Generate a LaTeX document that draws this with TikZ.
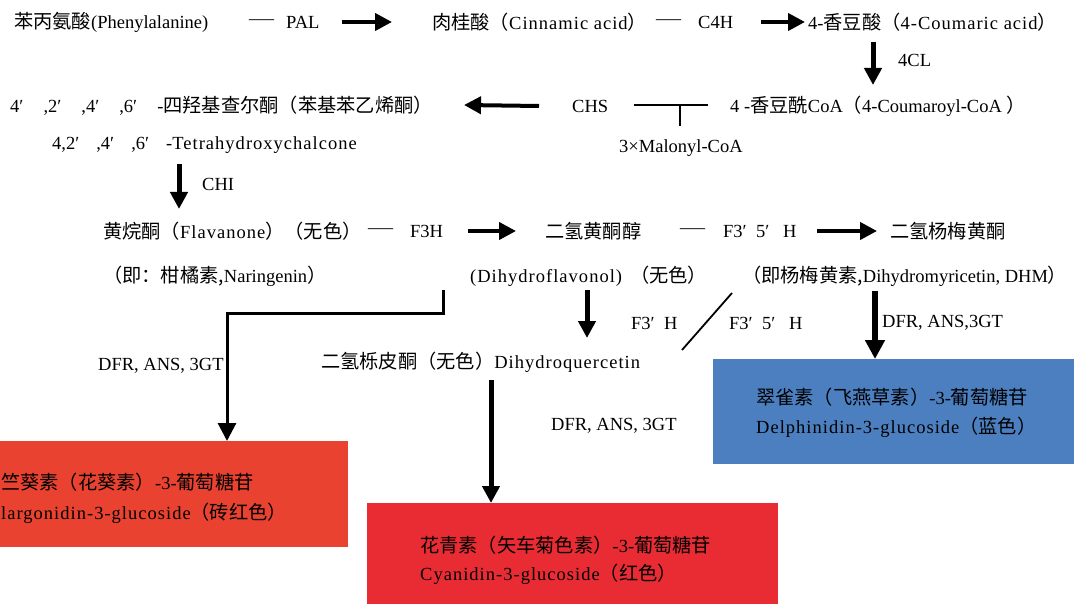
\documentclass[tikz,border=0pt]{standalone}
\usepackage{fontspec}
\setmainfont{Liberation Serif}
\newfontfamily\cjk{Noto Sans CJK SC}[Scale=1.04]
\newfontfamily\wide{Liberation Serif}[LetterSpace=5.5]
\usetikzlibrary{arrows.meta}
\newcommand{\ldash}{\scalebox{1.35}[1]{—}}
\begin{document}
\begin{tikzpicture}[x=1pt,y=-1pt,
  lbl/.style={anchor=west,inner sep=0pt,font=\fontsize{18.5}{22}\selectfont},
  harr/.style={line width=4pt,-{Triangle[length=17pt,width=17pt]}},
  varr/.style={line width=5pt,-{Triangle[length=17pt,width=17pt]}},
  elb/.style={line width=3pt,-{Triangle[length=18pt,width=18pt]}},
  thinline/.style={line width=1.6pt},
  colbox/.style={anchor=north west,inner sep=0pt,draw=none}]
\useasboundingbox[fill=white] (0,0) rectangle (1074,604);
\definecolor{pelc}{RGB}{233,66,48}
\definecolor{cyac}{RGB}{233,44,52}
\definecolor{delc}{RGB}{76,127,192}
% boxes
\node[colbox,fill=pelc,minimum width=348pt,minimum height=106pt] (pelbox) at (0,441) {};
\node[colbox,fill=cyac,minimum width=411pt,minimum height=101pt] (cyabox) at (367,503) {};
\node[colbox,fill=delc,minimum width=361pt,minimum height=105pt] (delbox) at (713,359) {};
% row 1
\node[lbl] (phe) at (14,22) {{\cjk 苯丙氨酸}(Phenylalanine)};
\node[lbl] (d1) at (249,22) {\ldash};
\node[lbl] (pal) at (286,22) {PAL};
\node[lbl] (cin) at (432,22) {{\cjk 肉桂酸（}{\wide Cinnamic acid}{\cjk ）}};
\node[lbl] (d2) at (656,22) {\ldash};
\node[lbl] (c4h) at (698,22) {C4H};
\node[lbl] (cou) at (808,22) {4-{\cjk 香豆酸（}{\wide 4-Coumaric acid}{\cjk ）}};
\draw[harr] ([xshift=22pt]pal.east) -- ([xshift=-40pt]cin.west);
\draw[harr] ([xshift=28pt]c4h.east) -- ([xshift=-3pt]cou.west);
% 4CL
\node[lbl] (fcl) at (898,60) {4CL};
\coordinate (fcltop) at (873,42);
\coordinate (fclbot) at (873,85);
\draw[varr] (fcltop) -- (fclbot);
% row 2
\node[lbl] (chal) at (10,106) {4′\hspace{20pt},2′\hspace{20pt},4′\hspace{20pt},6′\hspace{20pt}-{\cjk 四羟基查尔酮（苯基苯乙烯酮）}};
\node[lbl] (chs) at (572,106) {CHS};
\node[lbl] (coa) at (730,106) {4 -{\cjk 香豆酰}CoA{\cjk （}4-Coumaroyl-CoA {\cjk ）}};
\node[lbl] (mal) at (619,148) {3×Malonyl-CoA};
\draw[harr] ([xshift=-33pt]chs.west) -- (464,105);
\coordinate (tl) at (634,105);
\coordinate (tr) at (708,105);
\coordinate (tm) at (680,105);
\coordinate (tb) at (680,126);
\draw[thinline] (tl) -- (tr);
\draw[thinline] (tm) -- (tb);
\node[lbl] (tetra) at (52,145) {4,2′\hspace{17pt},4′\hspace{17pt},6′\hspace{17pt}-{\wide Tetrahydroxychalcone}};
% CHI
\node[lbl] (chi) at (202,184) {CHI};
\coordinate (chitop) at (179,164);
\coordinate (chibot) at (179,209);
\draw[varr] (chitop) -- (chibot);
% row 3
\node[lbl] (fla) at (103,231) {{\cjk 黄烷酮（}{\wide Flavanone}{\cjk ）（无色）}};
\node[lbl] (d3) at (368,231) {\ldash};
\node[lbl] (f3h) at (410,231) {F3H};
\node[lbl] (dhf) at (545,231) {\cjk 二氢黄酮醇};
\node[lbl] (d4) at (680,231) {\ldash};
\node[lbl] (f35h) at (723,231) {F3′\ \ 5′\ \ \ H};
\node[lbl] (dhm) at (890,231) {\cjk 二氢杨梅黄酮};
\draw[harr] ([xshift=25pt]f3h.east) -- ([xshift=-29pt]dhf.west);
\draw[harr] ([xshift=20pt]f35h.east) -- ([xshift=-13pt]dhm.west);
% row 4
\node[lbl] (nar) at (103,276) {{\cjk （即：柑橘素,}Naringenin{\cjk ）}};
\node[lbl] (dhfl) at (470,276) {{\wide (Dihydroflavonol)}\hspace{8pt}{\cjk （无色）}};
\node[lbl] (dhmy) at (742,276) {{\cjk （即杨梅黄素,}Dihydromyricetin, DHM{\cjk ）}};
% elbow to pelargonidin
\coordinate (elbs) at (443,290);
\draw[elb] (elbs) -- (443,313) -- (227,313) -- (pelbox.north -| 227,0);
\node[lbl] (dfr1) at (98,366) {DFR, ANS, 3GT};
% dihydroquercetin
\node[lbl] (dhq) at (321,362) {{\cjk 二氢栎皮酮（无色）}{\wide Dihydroquercetin}};
\coordinate (m1) at (587,290);
\coordinate (m2) at (587,338);
\draw[varr] (m1) -- (m2);
\node[lbl] (f3h2) at (631,323) {F3′\ \ H};
\coordinate (sl1) at (682,350);
\coordinate (sl2) at (732,293);
\draw[line width=1.8pt] (sl1) -- (sl2);
\node[lbl] (f35h2) at (729,323) {F3′\ \ 5′\ \ \ H};
\coordinate (dhma) at (875,291);
\draw[line width=6pt,-{Triangle[length=19pt,width=19pt]}] (dhma) -- (delbox.north -| dhma);
\node[lbl] (dfr3) at (882,323) {DFR, ANS,3GT};
\node[lbl] (dfr2) at (551,426) {DFR, ANS, 3GT};
\coordinate (q1) at (491,380);
\draw[varr] (q1) -- (cyabox.north -| q1);
% box texts
\node[lbl] (pel1) at (1,482) {{\cjk 竺葵素（花葵素）}-3-{\cjk 葡萄糖苷}};
\node[lbl] (pel2) at (1,513) {{\wide largonidin-3-glucoside}{\cjk （砖红色）}};
\node[lbl] (cya1) at (420,545) {{\cjk 花青素（矢车菊色素）}-3-{\cjk 葡萄糖苷}};
\node[lbl] (cya2) at (420,574) {{\wide Cyanidin-3-glucoside}{\cjk （红色）}};
\node[lbl] (del1) at (756,397) {{\cjk 翠雀素（飞燕草素）}-3-{\cjk 葡萄糖苷}};
\node[lbl] (del2) at (756,427) {{\wide Delphinidin-3-glucoside}{\cjk （蓝色）}};
\end{tikzpicture}
\end{document}
